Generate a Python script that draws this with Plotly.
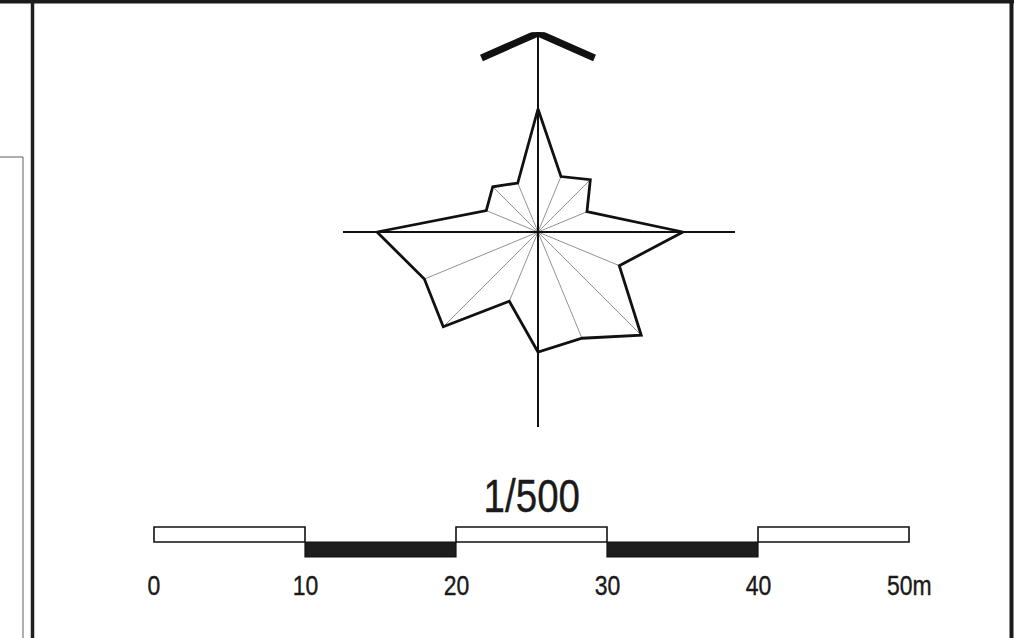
import plotly.graph_objects as go

# ---- data ----
directions = ["N", "NNE", "NE", "ENE", "E", "ESE", "SE", "SSE",
              "S", "SSW", "SW", "WSW", "W", "WNW", "NW", "NNW"]
angles = [i * 22.5 for i in range(16)]
frequency = [123, 60, 74, 53, 145, 88, 146, 115,
             120, 75, 134, 123, 161, 56, 64, 53]

scale_ticks = [0, 10, 20, 30, 40, 50]
scale_labels = ["0", "10", "20", "30", "40", "50m"]
scale_title = "1/500"

W, H = 1014, 638
cx, cy, R = 538, 232, 200  # rose centre (px) and polar radius (px)

FONT = "Liberation Sans, Arial, sans-serif"

fig = go.Figure()

# thin spokes from centre to each non-cardinal vertex
sp_r, sp_t = [], []
for a, v in zip(angles, frequency):
    if a % 90 != 0:
        sp_r += [0, v, None]
        sp_t += [a, a, None]
fig.add_trace(go.Scatterpolar(r=sp_r, theta=sp_t, mode="lines",
                              line=dict(color="#777777", width=0.8),
                              hoverinfo="skip", showlegend=False))

# cross axes
fig.add_trace(go.Scatterpolar(
    r=[0, 199, None, 0, 197, None, 0, 195, None, 0, 195],
    theta=[0, 0, None, 90, 90, None, 180, 180, None, 270, 270],
    mode="lines", line=dict(color="#111111", width=2),
    hoverinfo="skip", showlegend=False))

# rose outline
fig.add_trace(go.Scatterpolar(r=frequency + [frequency[0]],
                              theta=angles + [angles[0]],
                              mode="lines",
                              line=dict(color="#111111", width=2.8),
                              text=directions + [directions[0]],
                              showlegend=False))

# north arrow
fig.add_trace(go.Scatterpolar(r=[183, 199, 183], theta=[342, 0, 18],
                              mode="lines",
                              line=dict(color="#111111", width=7),
                              hoverinfo="skip", showlegend=False))

# ---- scale bar on cartesian axes ----
px0, px50 = 154, 909
b = (px50 - px0) / 50.0
xr = [-px0 / b, (W - px0) / b]

shapes = []
for i in range(len(scale_ticks) - 1):
    x0, x1 = scale_ticks[i], scale_ticks[i + 1]
    if i % 2 == 0:
        shapes.append(dict(type="rect", xref="x", yref="y", x0=x0, x1=x1,
                           y0=527, y1=542, fillcolor="white",
                           line=dict(color="#111111", width=1.6)))
    else:
        shapes.append(dict(type="rect", xref="x", yref="y", x0=x0, x1=x1,
                           y0=542, y1=557, fillcolor="#1e1e1e",
                           line=dict(color="#111111", width=1.2)))

# frame lines (paper)
def px(x): return x / W
def py(y): return 1 - y / H
shapes += [
    dict(type="line", xref="paper", yref="paper", x0=px(0), x1=px(W),
         y0=py(1.5), y1=py(1.5), line=dict(color="#1a1a1a", width=4)),
    dict(type="line", xref="paper", yref="paper", x0=px(32.5), x1=px(32.5),
         y0=py(0), y1=py(H), line=dict(color="#1a1f1f", width=3.5)),
    dict(type="line", xref="paper", yref="paper", x0=px(1011.5), x1=px(1011.5),
         y0=py(0), y1=py(H), line=dict(color="#1a1a1a", width=4)),
    dict(type="line", xref="paper", yref="paper", x0=px(23), x1=px(23),
         y0=py(157), y1=py(H), line=dict(color="#777777", width=1.2)),
    dict(type="line", xref="paper", yref="paper", x0=px(0), x1=px(23),
         y0=py(157), y1=py(157), line=dict(color="#777777", width=1.2)),
]

annotations = [dict(x=25, y=495, xref="x", yref="y", text=scale_title,
                    showarrow=False, font=dict(family=FONT, size=47, color="#1a1a1a"),
                    xanchor="center", yanchor="middle")]
for t, lab in zip(scale_ticks, scale_labels):
    annotations.append(dict(x=t, y=585, xref="x", yref="y", text=lab,
                            showarrow=False,
                            font=dict(family=FONT, size=28, color="#1a1a1a"),
                            xanchor="center", yanchor="middle"))

fig.update_layout(
    width=W, height=H,
    margin=dict(l=0, r=0, t=0, b=0),
    paper_bgcolor="white", plot_bgcolor="rgba(0,0,0,0)",
    xaxis=dict(domain=[0, 1], range=xr, visible=False, fixedrange=True),
    yaxis=dict(domain=[0, 1], range=[H, 0], visible=False, fixedrange=True),
    polar=dict(
        domain=dict(x=[(cx - R) / W, (cx + R) / W],
                    y=[(H - cy - R) / H, (H - cy + R) / H]),
        bgcolor="rgba(0,0,0,0)",
        radialaxis=dict(range=[0, R], visible=False),
        angularaxis=dict(rotation=90, direction="clockwise", visible=False),
    ),
    shapes=shapes,
    annotations=annotations,
    showlegend=False,
)

# remove default page margin and narrow the lettering (condensed look)
post = """
document.body.style.margin='0';
document.body.style.overflow='hidden';
document.querySelectorAll('.annotation-text').forEach(function(t){
  t.style.transformBox='fill-box';
  t.style.transformOrigin='center';
  t.style.transform='scaleX(0.82)';
  t.style.strokeWidth='0.4px';
  t.style.stroke='#1a1a1a';
});
"""
fig.write_html("out.html", post_script=post,
               config={"displayModeBar": False, "staticPlot": True})
